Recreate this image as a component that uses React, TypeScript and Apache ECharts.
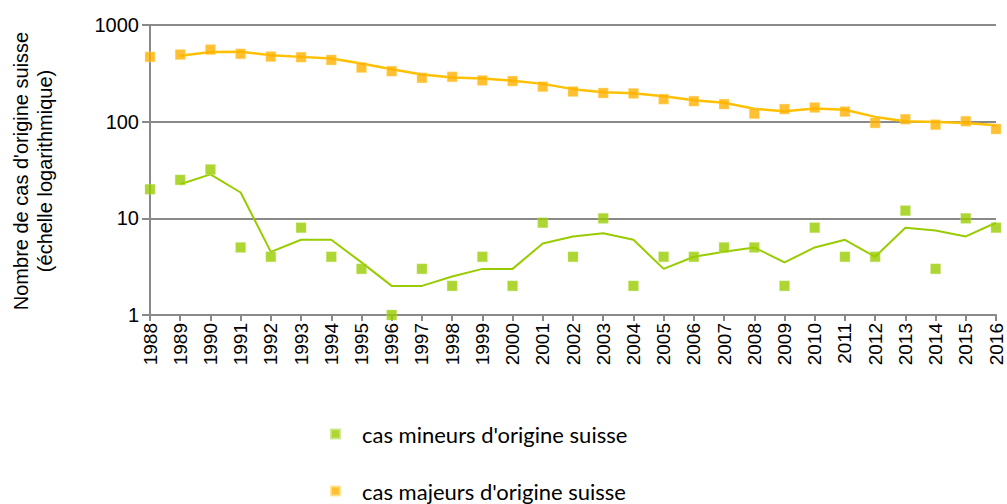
import React, { useEffect, useRef } from "react";
import * as echarts from "echarts";

const years = [
  "1988", "1989", "1990", "1991", "1992", "1993", "1994", "1995", "1996", "1997",
  "1998", "1999", "2000", "2001", "2002", "2003", "2004", "2005", "2006", "2007",
  "2008", "2009", "2010", "2011", "2012", "2013", "2014", "2015", "2016",
];

const mineurs = [20, 25, 32, 5, 4, 8, 4, 3, 1, 3, 2, 4, 2, 9, 4, 10, 2, 4, 4, 5, 5, 2, 8, 4, 4, 12, 3, 10, 8];
const mineursMoy = [null, 22.5, 28.5, 18.5, 4.5, 6, 6, 3.5, 2, 2, 2.5, 3, 3, 5.5, 6.5, 7, 6, 3, 4, 4.5, 5, 3.5, 5, 6, 4, 8, 7.5, 6.5, 9];

const majeurs = [468, 494, 556, 503, 471, 465, 435, 363, 333, 284, 291, 267, 263, 230, 205, 198, 196, 171, 163, 152, 121, 135, 140, 127, 97, 106, 93, 101, 84];
const majeursMoy = [null, 481, 525, 530, 487, 468, 450, 399, 348, 308, 287, 279, 265, 246, 217, 201, 197, 183, 167, 157, 136, 128, 137, 133, 112, 101, 99, 97, 92];

const yTicks = [1, 10, 100, 1000];

const nameMineurs = "cas mineurs d'origine suisse";
const nameMajeurs = "cas majeurs d'origine suisse";
const yTitle1 = "Nombre de cas d'origine suisse";
const yTitle2 = "(échelle logarithmique)";

export default function App() {
  const ref = useRef<HTMLDivElement>(null);
  useEffect(() => {
    if (!ref.current) return;
    const chart = echarts.init(ref.current, null, { renderer: "svg" });
    const axisGray = "#898989";
    const font = "Liberation Sans, Arial, sans-serif";
    const legendBase = {
      orient: "vertical",
      left: 330,
      itemWidth: 9,
      itemHeight: 9,
      icon: "rect",
      padding: 0,
      textStyle: {
        fontFamily: "Lato, sans-serif",
        fontSize: 22,
        color: "#000",
        padding: [0, 0, 0, 17],
      },
    };
    chart.setOption({
      animation: false,
      backgroundColor: "#ffffff",
      textStyle: { fontFamily: font },
      grid: { left: 150, right: 11, top: 25, bottom: 189, containLabel: false },
      legend: [
        { ...legendBase, top: 423, data: [nameMineurs] },
        { ...legendBase, top: 480, data: [nameMajeurs] },
      ],
      graphic: [
        {
          type: "text",
          x: 21,
          y: 171,
          rotation: Math.PI / 2,
          style: {
            text: yTitle1,
            font: "20px Liberation Sans, Arial, sans-serif",
            fill: "#000",
            textAlign: "center",
            textVerticalAlign: "middle",
          },
        },
        {
          type: "text",
          x: 45,
          y: 171,
          rotation: Math.PI / 2,
          style: {
            text: yTitle2,
            font: "20px Liberation Sans, Arial, sans-serif",
            fill: "#000",
            textAlign: "center",
            textVerticalAlign: "middle",
          },
        },
      ],
      xAxis: {
        type: "category",
        data: years,
        boundaryGap: false,
        axisLine: { lineStyle: { color: axisGray, width: 2 } },
        axisTick: { show: true, length: 6, alignWithLabel: true, lineStyle: { color: axisGray, width: 2 } },
        axisLabel: {
          rotate: 90,
          interval: 0,
          fontSize: 19,
          color: "#000",
          margin: 8,
          fontFamily: font,
        },
        splitLine: { show: false },
      },
      yAxis: {
        type: "log",
        logBase: 10,
        min: yTicks[0],
        max: yTicks[yTicks.length - 1],
        axisLine: { show: true, lineStyle: { color: axisGray, width: 2 } },
        axisTick: { show: true, length: 8, lineStyle: { color: axisGray, width: 2 } },
        axisLabel: {
          fontSize: 20,
          color: "#000",
          margin: 11,
          fontFamily: font,
          formatter: (v: number) => String(Math.round(v)),
        },
        splitLine: { show: true, lineStyle: { color: axisGray, width: 2 } },
        minorTick: { show: false },
      },
      series: [
        {
          name: nameMineurs + " (moyenne)",
          type: "line",
          data: mineursMoy,
          symbol: "none",
          lineStyle: { color: "#99CC00", width: 2 },
          itemStyle: { color: "#99CC00" },
          z: 2,
        },
        {
          name: nameMajeurs + " (moyenne)",
          type: "line",
          data: majeursMoy,
          symbol: "none",
          lineStyle: { color: "#FFC000", width: 2.5 },
          itemStyle: { color: "#FFC000" },
          z: 2,
        },
        {
          name: nameMineurs,
          type: "scatter",
          data: mineurs,
          symbol: "rect",
          symbolSize: 10,
          clip: false,
          itemStyle: { color: "#99CC00", borderColor: "#c8e680", borderWidth: 0.5 },
          z: 3,
        },
        {
          name: nameMajeurs,
          type: "scatter",
          data: majeurs,
          symbol: "rect",
          symbolSize: 10,
          clip: false,
          itemStyle: { color: "#FFB000", borderColor: "#ffe08a", borderWidth: 0.5 },
          z: 3,
        },
      ],
    });
    return () => chart.dispose();
  }, []);
  return <div ref={ref} style={{ width: 1007, height: 504, position: "absolute", left: 0, top: 0 }} />;
}
